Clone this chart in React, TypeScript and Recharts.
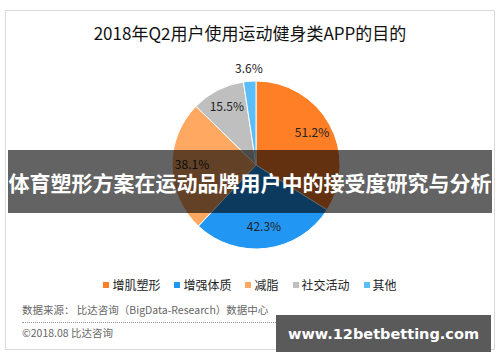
import React from "react";
import { PieChart, Pie, Cell, Legend } from "recharts";

const categories = ["增肌塑形", "增强体质", "减脂", "社交活动", "其他"];
const shares = [51.2, 42.3, 38.1, 15.5, 3.6];
const sliceColors = ["#FF7F27", "#2196F3", "#FFA862", "#BFBFBF", "#5CBEF8"];

const titleText = "2018年Q2用户使用运动健身类APP的目的";
const bannerText = "体育塑形方案在运动品牌用户中的接受度研究与分析";
const sourceText = "数据来源： 比达咨询（BigData-Research）数据中心";
const copyrightText = "©2018.08  比达咨询";
const siteText = "www.12betbetting.com";

const data = categories.map((name, i) => ({ name, value: shares[i] }));

const FONT = '"Noto Sans CJK SC", "Noto Sans", sans-serif';
const RAD = Math.PI / 180;

function renderLabel(props: any) {
  const { cx, cy, midAngle, value, index } = props;
  // small slice gets its label outside
  const r = index === 4 ? 95 : 64;
  const x = cx + r * Math.cos(-midAngle * RAD);
  const y = cy + r * Math.sin(-midAngle * RAD) - 3;
  return (
    <text
      x={x}
      y={y}
      textAnchor="middle"
      dominantBaseline="central"
      fill="#222"
      fontSize={12}
      fontFamily={FONT}
    >
      {value.toFixed(1)}%
    </text>
  );
}

function LegendContent() {
  return (
    <div
      style={{
        display: "flex",
        justifyContent: "center",
        alignItems: "center",
        fontFamily: FONT,
        fontSize: 12,
        color: "#222",
      }}
    >
      {categories.map((c, i) => (
        <span
          key={c}
          style={{ display: "inline-flex", alignItems: "center", marginRight: i < categories.length - 1 ? 14 : 0 }}
        >
          <span
            style={{ width: 6, height: 6, background: sliceColors[i], marginRight: 3, display: "inline-block" }}
          />
          {c}
        </span>
      ))}
    </div>
  );
}

export default function App() {
  return (
    <div
      style={{
        position: "absolute",
        left: 0,
        top: 0,
        width: 500,
        height: 362,
        background: "#fff",
        fontFamily: FONT,
        overflow: "hidden",
      }}
    >
      <div
        style={{
          position: "absolute",
          left: 5,
          top: 10,
          width: 488,
          height: 338,
          border: "1.5px solid #DADADA",
        }}
      />
      <div
        style={{
          position: "absolute",
          left: 0,
          top: 20,
          width: 500,
          textAlign: "center",
          fontSize: 17,
          color: "#111",
        }}
      >
        {titleText}
      </div>
      <div style={{ position: "absolute", left: 0, top: 0 }}>
        <PieChart width={500} height={362}>
          <Pie
            data={data}
            dataKey="value"
            nameKey="name"
            cx={251}
            cy={160}
            outerRadius={84}
            startAngle={90}
            endAngle={-270}
            stroke="#fff"
            strokeWidth={1}
            label={renderLabel}
            labelLine={false}
            isAnimationActive={false}
          >
            {data.map((d, i) => (
              <Cell key={d.name} fill={sliceColors[i]} />
            ))}
          </Pie>
          <Legend
            content={<LegendContent />}
            wrapperStyle={{ position: "absolute", top: 276, left: 0, width: 500 }}
          />
        </PieChart>
      </div>
      <div
        style={{
          position: "absolute",
          left: 22,
          top: 302,
          fontSize: 10.5,
          color: "#666",
        }}
      >
        {sourceText}
      </div>
      <div
        style={{
          position: "absolute",
          left: 22,
          top: 322,
          width: 458,
          borderTop: "1px dotted #999",
        }}
      />
      <div
        style={{
          position: "absolute",
          left: 22,
          top: 325,
          fontSize: 10.5,
          color: "#666",
        }}
      >
        {copyrightText}
      </div>
      <div
        style={{
          position: "absolute",
          left: 8,
          top: 150,
          width: 484,
          height: 63,
          background: "rgba(0,0,0,0.61)",
          display: "flex",
          alignItems: "center",
          justifyContent: "center",
          color: "#fff",
          fontSize: 21,
          fontWeight: "bold",
          whiteSpace: "nowrap",
        }}
      >
        {bannerText}
      </div>
      <div
        style={{
          position: "absolute",
          left: 276,
          top: 315,
          width: 215,
          height: 37,
          background: "#5A5A5A",
          display: "flex",
          alignItems: "center",
          justifyContent: "center",
          color: "#fff",
          fontSize: 14.5,
          fontWeight: "bold",
          fontFamily: '"DejaVu Sans", sans-serif',
          whiteSpace: "nowrap",
        }}
      >
        {siteText}
      </div>
    </div>
  );
}
